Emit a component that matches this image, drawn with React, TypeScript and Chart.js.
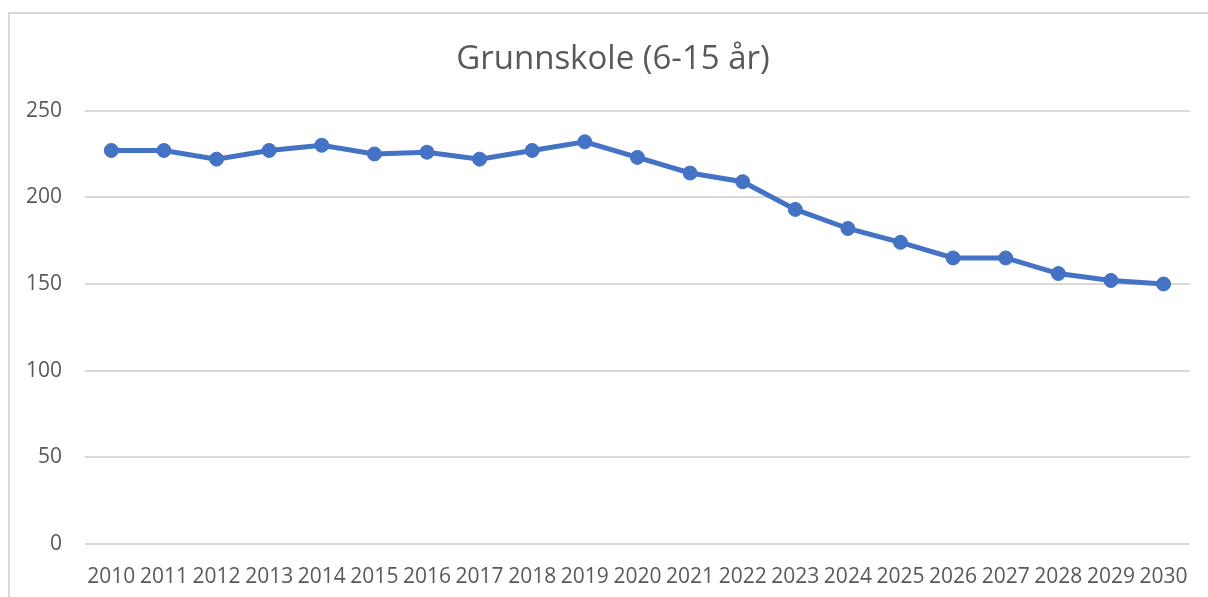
import React, { useEffect, useRef } from "react";
import { Chart, registerables } from "chart.js";

Chart.register(...registerables);

const years = ["2010","2011","2012","2013","2014","2015","2016","2017","2018","2019","2020","2021","2022","2023","2024","2025","2026","2027","2028","2029","2030"];
const pupils = [227, 227, 222, 227, 230, 225, 226, 222, 227, 232, 223, 214, 209, 193, 182, 174, 165, 165, 156, 152, 150];
const titleText = "Grunnskole (6-15 år)";

const W = 1208;
const H = 597;

const shiftTitle = {
  id: "shiftTitle",
  afterLayout(chart: any) {
    const t = chart.titleBlock;
    if (t) {
      t.left = 36;
      t.width = t.right - t.left;
    }
  },
};

export default function App() {
  const ref = useRef<HTMLCanvasElement | null>(null);
  useEffect(() => {
    document.body.style.overflow = "hidden";
    const ctx = ref.current!;
    const font = "'Open Sans', 'Noto Sans', sans-serif";
    const chart = new Chart(ctx, {
      type: "line",
      data: {
        labels: years,
        datasets: [
          {
            data: pupils,
            borderColor: "#4472C4",
            backgroundColor: "#4472C4",
            borderWidth: 5,
            pointRadius: 7,
            pointBorderWidth: 1,
            pointBackgroundColor: "#4472C4",
            pointBorderColor: "#4472C4",
            tension: 0,
          },
        ],
      },
      options: {
        responsive: false,
        animation: false,
        layout: { padding: { left: 0, right: 18, top: 0, bottom: 0 } },
        plugins: {
          legend: { display: false },
          tooltip: { enabled: false },
          title: {
            display: true,
            text: titleText,
            color: "#595959",
            font: { family: font, size: 33, weight: "normal" },
            padding: { top: 40, bottom: 31 },
          },
        },
        scales: {
          x: {
            offset: true,
            grid: { display: false, drawTicks: false },
            border: { display: false },
            ticks: {
              color: "#595959",
              font: { family: font, size: 21 },
              padding: 20,
              autoSkip: false,
              maxRotation: 0,
              minRotation: 0,
            },
            afterFit: (s: any) => { s.height = 53; },
          },
          y: {
            min: 0,
            max: 250,
            grid: { color: "#d9d9d9", lineWidth: 2, drawTicks: false },
            border: { display: false },
            ticks: {
              stepSize: 50,
              color: "#595959",
              font: { family: font, size: 21 },
              padding: 23,
            },
            afterFit: (s: any) => { s.width = 85; },
          },
        },
      },
      plugins: [shiftTitle],
    });
    return () => chart.destroy();
  }, []);
  return (
    <div style={{ position: "fixed", left: 0, top: 0, width: W, height: H, overflow: "hidden", background: "#fff" }}>
      <div style={{ position: "absolute", left: 8, top: 12, width: 1400, height: 800, border: "2px solid #d9d9d9" }} />
      <canvas ref={ref} width={W} height={H} style={{ position: "absolute", left: 0, top: 0, width: W, height: H }} />
    </div>
  );
}
